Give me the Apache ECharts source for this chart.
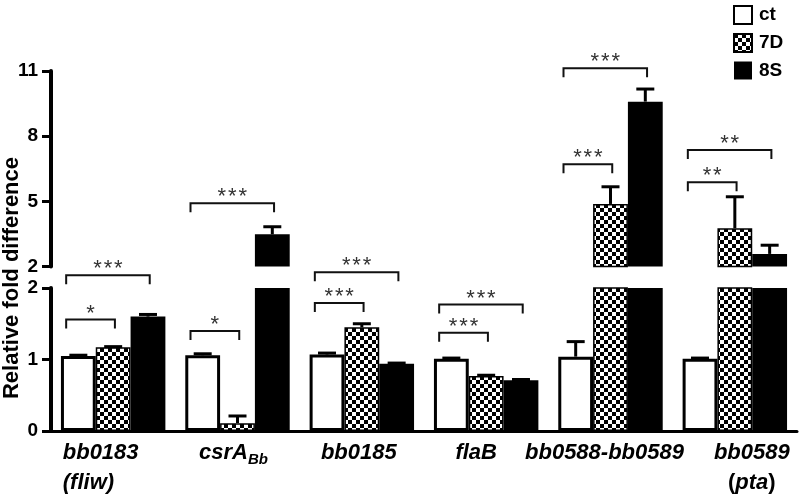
<!DOCTYPE html>
<html><head><meta charset="utf-8">
<script src="https://cdn.jsdelivr.net/npm/echarts@6/dist/echarts.min.js"></script>
<style>html,body{margin:0;padding:0;background:#fff}#c{width:800px;height:494px}</style>
</head><body><div id="c"></div>
<script>
// ---- data ----
const categories = ['bb0183 (fliw)', 'csrABb', 'bb0185', 'flaB', 'bb0588-bb0589', 'bb0589 (pta)'];
const seriesNames = ['ct', '7D', '8S'];
const ctValues = [1.05, 1.06, 1.07, 1.01, 1.04, 1.01];
const ctErrors = [0.01, 0.02, 0.02, 0.01, 0.21, 0.01];
const d7Values = [1.17, 0.11, 1.45, 0.77, 4.88, 3.76];
const d7Errors = [0.01, 0.10, 0.05, 0.01, 0.79, 1.45];
const s8Values = [1.60, 3.48, 0.94, 0.71, 9.59, 2.58];
const s8Errors = [0.03, 0.35, 0.01, 0.01, 0.58, 0.40];
const upperRange = [2, 11];
const lowerRange = [0, 2];
// significance brackets
const bracketGroup = [0, 0, 1, 1, 2, 2, 3, 3, 4, 4, 5, 5];
const bracketToBar = [1, 2, 1, 2, 1, 2, 1, 2, 1, 2, 1, 2];
const bracketValue = [1.56, 2.18, 1.40, 4.91, 1.79, 2.22, 1.375, 1.77, 6.71, 11.13, 5.88, 7.36];
const bracketPanel = ['lower', 'lower', 'lower', 'upper', 'lower', 'lower', 'lower', 'lower', 'upper', 'upper', 'upper', 'upper'];
const bracketLabel = ['*', '***', '*', '***', '***', '***', '***', '***', '***', '***', '**', '**'];

const labelRich = {
  'bb0183 (fliw)': '{il|bb0183}\n{il|(fliw)}',
  'csrABb': '{i|csrA}{sub|Bb}',
  'bb0185': '{i|bb0185}',
  'flaB': '{i|flaB}',
  'bb0588-bb0589': '{i|bb0588-bb0589}',
  'bb0589 (pta)': '{i|bb0589}\n{n|(}{i|pta}{n|)}'
};

// ---- styles ----
// horizontal nudge of each category label (padding [top,right,bottom,left])
const labelPadding = {
  'bb0183 (fliw)': [0, 25, 0, 0],
  'csrABb': [0, 8, 0, 0],
  'bb0185': [0, 6, 0, 0],
  'flaB': [0, 20, 0, 0],
  'bb0588-bb0589': [0, 12, 0, 0],
  'bb0589 (pta)': [0, 0, 0, 34]
};
const pc = document.createElement('canvas');
pc.width = 8; pc.height = 8;
const g = pc.getContext('2d');
g.fillStyle = '#fff'; g.fillRect(0, 0, 8, 8);
g.fillStyle = '#000'; g.fillRect(0, 0, 4, 4); g.fillRect(4, 4, 4, 4);
const checker = { image: pc, repeat: 'repeat' };

const barStyles = [
  { color: '#fff', borderColor: '#000', borderWidth: 3 },
  { color: checker, borderColor: '#000', borderWidth: 1.5 },
  { color: '#000', borderColor: '#000', borderWidth: 0 }
];
const valueSets = [ctValues, d7Values, s8Values];
const errorSets = [ctErrors, d7Errors, s8Errors];
const FONT = 'Liberation Sans, Arial, sans-serif';
const CAT_GAP = 0.16;

function errData(panel) {
  const out = [];
  valueSets.forEach((vals, bi) => {
    vals.forEach((v, gi) => {
      const up = v >= 2;
      if ((panel === 'upper') === up) out.push([gi, v, bi, errorSets[bi][gi]]);
    });
  });
  return out;
}
function bracketData(panel) {
  const out = [];
  bracketGroup.forEach((gi, k) => {
    if (bracketPanel[k] === panel) out.push([gi, bracketValue[k], bracketToBar[k], k]);
  });
  return out;
}
function renderErr(params, api) {
  const gi = api.value(0), v = api.value(1), bi = api.value(2), e = api.value(3);
  const base = api.coord([gi, v]);
  const top = api.coord([gi, v + e]);
  const bw = api.size([1, 0])[0];
  const barW = bw * (1 - CAT_GAP) / 3;
  const x = base[0] + (bi - 1) * barW;
  return { type: 'group', children: [
    { type: 'line', shape: { x1: x, y1: base[1], x2: x, y2: top[1] }, style: { stroke: '#000', lineWidth: 3 } },
    { type: 'line', shape: { x1: x - 9, y1: top[1], x2: x + 9, y2: top[1] }, style: { stroke: '#000', lineWidth: 3 } }
  ] };
}
function renderBracket(params, api) {
  const gi = api.value(0), v = api.value(1), to = api.value(2), k = api.value(3);
  const c = api.coord([gi, v]);
  const bw = api.size([1, 0])[0];
  const barW = bw * (1 - CAT_GAP) / 3;
  const x1 = c[0] - barW - 0.35 * barW;
  const x2 = c[0] + (to - 1) * barW + 0.05 * barW;
  const y = c[1];
  return { type: 'group', children: [
    { type: 'polyline', shape: { points: [[x1, y + 9], [x1, y], [x2, y], [x2, y + 9]] },
      style: { stroke: '#111', lineWidth: 2, fill: null } },
    { type: 'text', x: (x1 + x2) / 2, y: y - 6,
      style: { text: bracketLabel[k].split('').join('\u200A'), font: '22px ' + FONT, fill: '#333',
               textAlign: 'center', textVerticalAlign: 'middle' } }
  ] };
}

const series = [];
['upper', 'lower'].forEach((panel, pi) => {
  seriesNames.forEach((name, bi) => {
    series.push({
      name, type: 'bar', xAxisIndex: pi, yAxisIndex: pi,
      data: valueSets[bi], barGap: '0%', barCategoryGap: (CAT_GAP * 100) + '%',
      itemStyle: barStyles[bi], clip: true, animation: false
    });
  });
  series.push({ type: 'custom', xAxisIndex: pi, yAxisIndex: pi, data: errData(panel),
    renderItem: renderErr, encode: { x: 0, y: 1 }, z: 5, animation: false, silent: true });
  series.push({ type: 'custom', xAxisIndex: pi, yAxisIndex: pi, data: bracketData(panel),
    renderItem: renderBracket, encode: { x: 0, y: 1 }, z: 5, clip: false, animation: false, silent: true });
});

const lowerCatData = categories.map(c => ({ value: c, textStyle: { padding: labelPadding[c] } }));
const yLabel = { color: '#000', fontSize: 19, fontWeight: 'bold', fontFamily: FONT, margin: 13 };
const richBase = { fontSize: 22, fontWeight: 'bold', fontFamily: FONT, lineHeight: 30, color: '#000' };
const chart = echarts.init(document.getElementById('c'), null, { renderer: 'canvas' });
chart.setOption({
  animation: false,
  backgroundColor: '#fff',
  grid: [
    { left: 51, right: 3, top: 71, height: 195.5 },
    { left: 51, right: 3, top: 288, height: 145 }
  ],
  legend: {
    data: seriesNames, orient: 'vertical', left: 728, top: 0,
    itemWidth: 18, itemHeight: 18, itemGap: 8, icon: 'rect',
    textStyle: { color: '#000', fontSize: 19, fontWeight: 'bold', fontFamily: FONT, padding: [0, 0, 0, 2] }
  },
  xAxis: [
    { type: 'category', gridIndex: 0, data: categories, show: false },
    { type: 'category', gridIndex: 1, data: lowerCatData,
      axisLine: { lineStyle: { color: '#000', width: 3 } }, axisTick: { show: false },
      axisLabel: { interval: 0, margin: 7, color: '#000',
        formatter: v => labelRich[v],
        rich: {
          i: Object.assign({ fontStyle: 'italic' }, richBase),
          il: Object.assign({ fontStyle: 'italic', align: 'left' }, richBase),
          n: Object.assign({}, richBase),
          sub: { fontSize: 15, fontWeight: 'bold', fontStyle: 'italic', fontFamily: FONT, color: '#000', padding: [13, 0, 0, 0], lineHeight: 30 }
        } } }
  ],
  yAxis: [
    { type: 'value', gridIndex: 0, min: upperRange[0], max: upperRange[1], interval: 3,
      splitLine: { show: false },
      axisLine: { show: true, lineStyle: { color: '#000', width: 4 } },
      axisTick: { show: true, length: 9, lineStyle: { color: '#000', width: 3 } },
      axisLabel: yLabel },
    { type: 'value', gridIndex: 1, min: lowerRange[0], max: lowerRange[1], interval: 1,
      splitLine: { show: false },
      axisLine: { show: true, lineStyle: { color: '#000', width: 4 } },
      axisTick: { show: true, length: 9, lineStyle: { color: '#000', width: 3 } },
      axisLabel: yLabel }
  ],
  graphic: [
    { type: 'text', x: 12, y: 278, rotation: Math.PI / 2,
      style: { text: 'Relative fold difference', font: 'bold 22px ' + FONT, fill: '#000',
               textAlign: 'center', textVerticalAlign: 'middle' } }
  ],
  series
});
</script>
</body></html>
